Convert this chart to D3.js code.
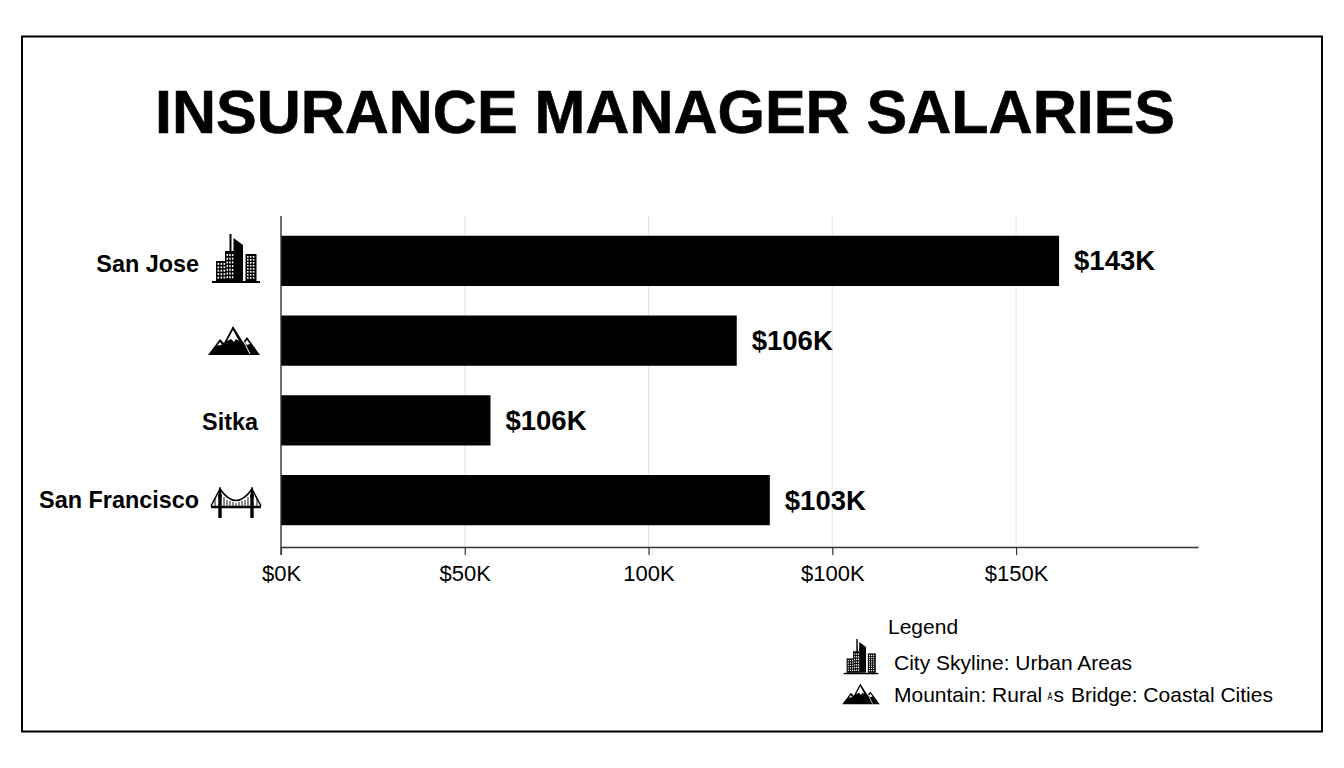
<!DOCTYPE html>
<html><head><meta charset="utf-8">
<script src="https://cdn.jsdelivr.net/npm/d3@7/dist/d3.min.js"></script>
<style>html,body{margin:0;padding:0;background:#fff}svg{display:block}text{font-family:"Liberation Sans",Arial,sans-serif;fill:#000}</style>
</head><body><svg id="c" width="1344" height="768"></svg>
<script>
const titleText = "INSURANCE MANAGER SALARIES";
const categories = ["San Jose", "", "Sitka", "San Francisco"];
const barLengths = [211.7, 124, 57, 133];
const valueLabels = ["$143K", "$106K", "$106K", "$103K"];
const tickValues = [0, 50, 100, 150, 200];
const tickLabels = ["$0K", "$50K", "100K", "$100K", "$150K"];

const svg = d3.select("#c");
svg.append("rect").attr("x",22).attr("y",36.5).attr("width",1300).attr("height",695)
  .attr("fill","#fff").attr("stroke","#000").attr("stroke-width",2);
svg.append("text").attr("x",665).attr("y",133).attr("text-anchor","middle")
  .attr("font-size",61).attr("font-weight",700).attr("stroke","#000").attr("stroke-width",0.6)
  .attr("textLength",1020).attr("lengthAdjust","spacing").text(titleText);

const x = d3.scaleLinear().domain([0,249.5]).range([281,1198]);
const y = d3.scaleBand().domain(d3.range(categories.length)).range([221,540]).paddingInner(0.37).paddingOuter(0.185);

svg.append("g").selectAll("line").data(tickValues.slice(1)).join("line")
  .attr("x1",d=>x(d)).attr("x2",d=>x(d)).attr("y1",216).attr("y2",547).attr("stroke","#e4e4e4");

svg.append("g").selectAll("rect").data(barLengths).join("rect")
  .attr("x",x(0)).attr("y",(d,i)=>y(i)).attr("width",d=>x(d)-x(0)).attr("height",y.bandwidth()).attr("fill","#000");

svg.append("g").selectAll("text").data(valueLabels).join("text")
  .attr("x",(d,i)=>x(barLengths[i])+15).attr("y",(d,i)=>y(i)+y.bandwidth()/2+9.5)
  .attr("font-size",27.5).attr("font-weight",700).text(d=>d);

const labelEnd = {"Sitka":258};
const labelDy = {"San Jose":11,"Sitka":9.5,"San Francisco":7.5};
const cats = svg.append("g");
categories.forEach((c,i)=>{ if(c) cats.append("text").attr("x",labelEnd[c]||199).attr("y",y(i)+y.bandwidth()/2+labelDy[c])
  .attr("text-anchor","end").attr("font-size",23.4).attr("font-weight",700).text(c); });

const ax = svg.append("g").attr("transform","translate(0,547)")
  .call(d3.axisBottom(x).tickValues(tickValues).tickSizeInner(8).tickSizeOuter(0).tickPadding(10).tickFormat((d,i)=>tickLabels[i]));
ax.select(".domain").attr("stroke","#333").attr("stroke-width",1.4);
ax.selectAll(".tick line").attr("stroke","#333").attr("stroke-width",1.2);
ax.selectAll("text").attr("font-size",22).style("font-family",'"Liberation Sans",Arial,sans-serif').attr("fill","#000");

svg.append("line").attr("x1",281).attr("x2",281).attr("y1",216).attr("y2",555).attr("stroke","#333").attr("stroke-width",1.4);

function windows(n,x0,y0,cols,rows,sx,sy){
  for(let a=0;a<cols;a++)for(let b=0;b<rows;b++)
    n.append("rect").attr("fill","#fff").attr("x",x0+a*sx).attr("y",y0+b*sy).attr("width",sx*.55).attr("height",sy*.55);
}
function city(g,s){
  const n=g.append("g").attr("transform",`scale(${s})`);
  n.append("rect").attr("x",-24).attr("y",22).attr("width",48).attr("height",2);
  n.append("rect").attr("x",-20).attr("y",2).attr("width",10).attr("height",20);
  n.append("rect").attr("x",-11).attr("y",-8).attr("width",9).attr("height",30);
  n.append("rect").attr("x",-6.5).attr("y",-25).attr("width",2).attr("height",18);
  n.append("path").attr("d","M-2.5,-21 L7,-14 L7,22 L-2.5,22Z");
  n.append("rect").attr("x",9.5).attr("y",-5).attr("width",11).attr("height",27);
  windows(n,-18.5,4,3,5,3,3.4);
  windows(n,-9.5,-5,3,7,2.7,3.7);
  windows(n,11,-3,3,8,2.9,3);
}
function mountain(g,s){
  const n=g.append("g").attr("transform",`scale(${s})`);
  n.append("path").attr("d","M-26,13 L-14,-3 L-10,1 L-1,-16 L9,0 L13,-5 L26,13Z");
  n.append("path").attr("fill","#fff").attr("d","M-1,-12 L-7,-1 L-3,-3 L0,0 L2,-3 L5,-1Z M-14,0 L-17,4 L-14,3 L-12,3Z M13,-2 L11,1 L13,3 L16,2Z");
  n.append("path").attr("fill","none").attr("stroke","#fff").attr("stroke-width",1).attr("d","M9,-2 L16,12");
}
function bridge(g,s){
  const n=g.append("g").attr("transform",`scale(${s})`).attr("stroke","#000").attr("fill","none");
  n.append("path").attr("stroke-width",2.6).attr("d","M-25,6 L25,6");
  n.append("path").attr("stroke-width",3.4).attr("d","M-16,-6 L-16,17 M16,-6 L16,17");
  n.append("path").attr("fill","#000").attr("stroke","none").attr("d","M-18,-4 L-16.5,-14 L-15.5,-14 L-14,-4Z M14,-4 L15.5,-14 L16.5,-14 L18,-4Z");
  n.append("path").attr("stroke-width",1.5).attr("d","M-25,5 L-16,-12 Q0,11 16,-12 L25,5");
  n.append("path").attr("stroke-width",.9).attr("d","M-21,-3V6M-12,-4V6M-9,-1V6M-6,0V6M-3,1V6M0,2V6M3,1V6M6,0V6M9,-1V6M12,-4V6M21,-3V6");
}
const draw={city,mountain,bridge};
[[236,259,"city"],[234,342,"mountain"],[236,501,"bridge"]].forEach(([px,py,k])=>{
  draw[k](svg.append("g").attr("transform",`translate(${px},${py})`),1);
});
draw.city(svg.append("g").attr("transform",`translate(861,657)`),0.72);
draw.mountain(svg.append("g").attr("transform",`translate(861,695)`),0.72);

const legendLines = [["Legend",888,634],["City Skyline: Urban Areas",894,670],["Mountain: Rural",894,702],["Bridge: Coastal Cities",1071,702]];
svg.append("g").selectAll("text").data(legendLines).join("text")
  .attr("x",d=>d[1]).attr("y",d=>d[2]).attr("font-size",21).text(d=>d[0]);
svg.append("text").attr("x",1047.5).attr("y",700).attr("font-size",10).attr("textLength",5).attr("lengthAdjust","spacingAndGlyphs").text("A");
svg.append("text").attr("x",1053.5).attr("y",702).attr("font-size",21).text("s");
</script></body></html>
